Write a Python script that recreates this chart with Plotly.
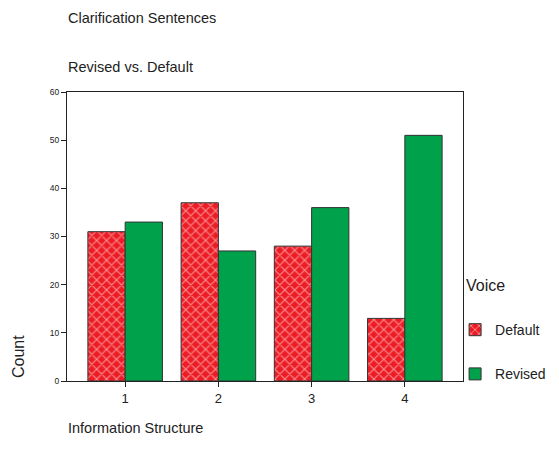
import plotly.graph_objects as go

categories = ["1", "2", "3", "4"]
default_counts = [31, 37, 28, 13]
revised_counts = [33, 27, 36, 51]
y_ticks = [0, 10, 20, 30, 40, 50, 60]

RED = "#ED1C24"
GREEN = "#00A14B"
FONT = "Liberation Sans, Arial, sans-serif"

fig = go.Figure()
fig.add_trace(go.Bar(
    x=[1, 2, 3, 4], y=default_counts, name="Default", legendgroup="d",
    marker=dict(color=RED, line=dict(color="#333333", width=1),
                pattern=dict(shape="x", fgcolor="white", bgcolor=RED, size=7, solidity=0.3)),
))
fig.add_trace(go.Bar(
    x=[1, 2, 3, 4], y=revised_counts, name="Revised", legendgroup="r",
    marker=dict(color=GREEN, line=dict(color="#333333", width=1)),
))

fig.update_layout(
    width=559, height=457,
    margin=dict(l=59, r=104, t=84, b=84),
    paper_bgcolor="white", plot_bgcolor="white",
    barmode="group", bargap=0.2, bargroupgap=0,
    font=dict(family=FONT, color="#222222"),
    showlegend=True,
    legend=dict(
        x=0.98, xanchor="left", xref="paper", y=0.10, yanchor="middle",
        font=dict(size=14), tracegroupgap=23,
        bgcolor="rgba(0,0,0,0)",
    ),
    xaxis=dict(
        range=[0.376, 4.624], tickvals=[1, 2, 3, 4], ticktext=categories,
        ticks="outside", ticklen=5, tickcolor="#222222",
        showline=True, linecolor="#222222", linewidth=1, mirror=True,
        showgrid=False, zeroline=False, tickfont=dict(size=13),
    ),
    yaxis=dict(
        range=[0, 60], tickvals=y_ticks,
        ticks="outside", ticklen=5, tickcolor="#222222",
        showline=True, linecolor="#222222", linewidth=1, mirror=True,
        showgrid=False, zeroline=False, tickfont=dict(size=8.5),
    ),
    annotations=[
        dict(text="Clarification Sentences", xref="paper", yref="paper",
             x=0, y=1, xshift=-1, yshift=74, xanchor="left", yanchor="middle",
             showarrow=False, font=dict(size=14.5)),
        dict(text="Revised vs. Default", xref="paper", yref="paper",
             x=0, y=1, xshift=-1, yshift=25, xanchor="left", yanchor="middle",
             showarrow=False, font=dict(size=14.5)),
        dict(text="Information Structure", xref="paper", yref="paper",
             x=0, y=0, xshift=-1, yshift=-47, xanchor="left", yanchor="middle",
             showarrow=False, font=dict(size=14.5)),
        dict(text="Count", xref="paper", yref="paper",
             x=0, y=0, xshift=-49, yshift=24, xanchor="center", yanchor="middle",
             textangle=-90, showarrow=False, font=dict(size=16)),
        dict(text="Voice", xref="paper", yref="paper",
             x=1, y=0, xshift=1, yshift=96, xanchor="left", yanchor="middle",
             showarrow=False, font=dict(size=16)),
    ],
)

fig.write_html("out.html")
